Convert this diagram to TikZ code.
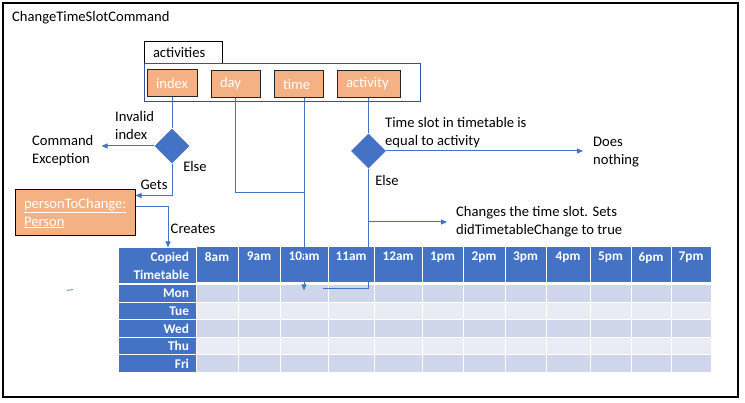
\documentclass[tikz,border=0pt]{standalone}
\usepackage{fontspec}
\setmainfont{Carlito}
\usetikzlibrary{positioning,arrows.meta,shapes.geometric}

\definecolor{lineblue}{HTML}{4472C4}
\definecolor{frameblue}{HTML}{2F5597}
\definecolor{peach}{HTML}{F4B183}
\definecolor{rowdark}{HTML}{CFD5EA}
\definecolor{rowlight}{HTML}{E9EBF5}

\tikzset{
  field/.style={draw=black!85, line width=1pt, fill=peach, text=white, minimum height=27pt, inner xsep=9pt, align=left},
  check/.style={diamond, aspect=1, fill=lineblue, minimum width=35pt, minimum height=35pt, inner sep=0pt},
  flow/.style={lineblue, line width=1pt},
  note/.style={inner sep=2pt, align=left},
  tabfont/.style={font=\bfseries\fontsize{13.3}{18}\selectfont},
  hdrcell/.style={fill=lineblue, draw=white, line width=1pt, text=white, tabfont},
  bodycell/.style={draw=white, line width=1pt, inner sep=0pt}
}

\begin{document}
\begin{tikzpicture}[x=1pt, y=-1pt, font=\fontsize{14.6}{18}\selectfont, >={Triangle[length=6pt,width=5pt]}]
\useasboundingbox (0,0) rectangle (745,403);
\draw[black, line width=1.3pt] (3,3) rectangle (738,397);

\node[anchor=west, inner sep=0pt] (title) at (12,18) {ChangeTimeSlotCommand};

% the activities object and its fields
\node[draw=black, line width=1pt, minimum width=78pt, minimum height=22pt, text width=60pt, inner xsep=9pt, align=left] (actlabel) at (183,53) {activities};
\node[draw=frameblue, line width=1pt, minimum width=276pt, minimum height=38pt] (actbox) at (282,83) {};
\node[field, text width=32pt] (index) at (172,83.5) {index};
\node[field, text width=31pt] (day) at (235.5,84) {day};
\node[field, text width=31pt] (time) at (298.5,84.5) {time};
\node[field, text width=45pt] (activity) at (368.5,84) {activity};

% checks
\node[check] (chkidx) at (172,146) {};
\node[check] (chkslot) at (368.5,151) {};

% labels
\node[note, anchor=west] (invalid) at (113,125) {Invalid\\index};
\node[note, anchor=west] (cmdexc) at (30,151) {Command\\Exception};
\node[note] (elseidx) at (195,166) {Else};
\node[note] (gets) at (154,185) {Gets};
\node[note] (creates) at (193,229) {Creates};
\node[note, anchor=west] (slotq) at (383,133) {Time slot in timetable is\\equal to activity};
\node[note, anchor=west, inner xsep=10pt] (nothing) at (583,152) {Does\\nothing};
\node[note] (elseslot) at (387,180) {Else};
\node[note, anchor=west, inner xsep=9pt] (changes) at (447,222) {Changes the time slot. Sets\\didTimetableChange to true};

\node[draw=black, line width=1pt, fill=peach, text=white, minimum width=120pt, minimum height=46pt, text width=102pt, inner xsep=9pt, align=left] (person) at (75,213) {\underline{personToChange:}\\\underline{Person}};

% copied timetable
\node[hdrcell, minimum width=78pt, minimum height=36pt, text width=64pt, inner xsep=7pt, align=right] (corner) at (157,266) {Copied\\Timetable};
\foreach \day [count=\j] in {Mon,Tue,Wed,Thu,Fri}{
  \pgfmathsetmacro{\rowy}{275.7+17.6*\j}
  \node[hdrcell, minimum width=78pt, minimum height=17.6pt, text width=64pt, inner xsep=7pt, inner ysep=0pt, align=right] (lbl-\day) at (157,\rowy) {\day};
}
\foreach \xl/\xr/\hour in {196/238/8am, 238/280/9am, 280/328/10am, 328/374/11am, 374/422/12am, 422/463/1pm, 463/505/2pm, 505/546/3pm, 546/590/4pm, 590/631/5pm, 631/671/6pm, 671/711/7pm}{
  \pgfmathsetmacro{\colw}{\xr-\xl}
  \pgfmathsetmacro{\colx}{(\xl+\xr)/2}
  \node[hdrcell, minimum width=\colw pt, minimum height=36pt, label={[anchor=north, text=white, tabfont, inner ysep=5.5pt]north:\hour}] (h-\hour) at (\colx,265) {};
  \foreach \day [count=\j] in {Mon,Tue,Wed,Thu,Fri}{
    \pgfmathsetmacro{\rowy}{275.7+17.6*\j}
    \ifodd\j\def\rowfill{rowdark}\else\def\rowfill{rowlight}\fi
    \node[bodycell, fill=\rowfill, minimum width=\colw pt, minimum height=17.6pt] (\day-\hour) at (\colx,\rowy) {};
  }
}

% connectors
\coordinate (dayjoin) at (304,193);
\coordinate (slotend) at (323,289);
\draw[flow] (index.south) -- (chkidx.north);
\draw[flow, ->] (chkidx.west) -- ([xshift=6pt]chkidx.west -| cmdexc.east);
\draw[flow, ->] (chkidx.south) |- ([yshift=-6pt]person.north east);
\draw[flow, ->] ([yshift=6pt]person.east) -| ([xshift=11pt]corner.north);
\draw[flow] (day.south) |- (dayjoin);
\draw[flow, ->] (time.south -| Mon-10am) -- ([yshift=3pt]Mon-10am.center);
\draw[flow] (activity.south) -- (chkslot.north);
\draw[flow, ->] (chkslot.east) -- (chkslot.east -| nothing.west);
\draw[flow, ->] (chkslot.south) |- (changes.west);
\draw[flow] (chkslot.south) |- (slotend);

\draw[lineblue!70, line width=1pt] (67,290.5) -- (73,289.5);
\end{tikzpicture}
\end{document}
